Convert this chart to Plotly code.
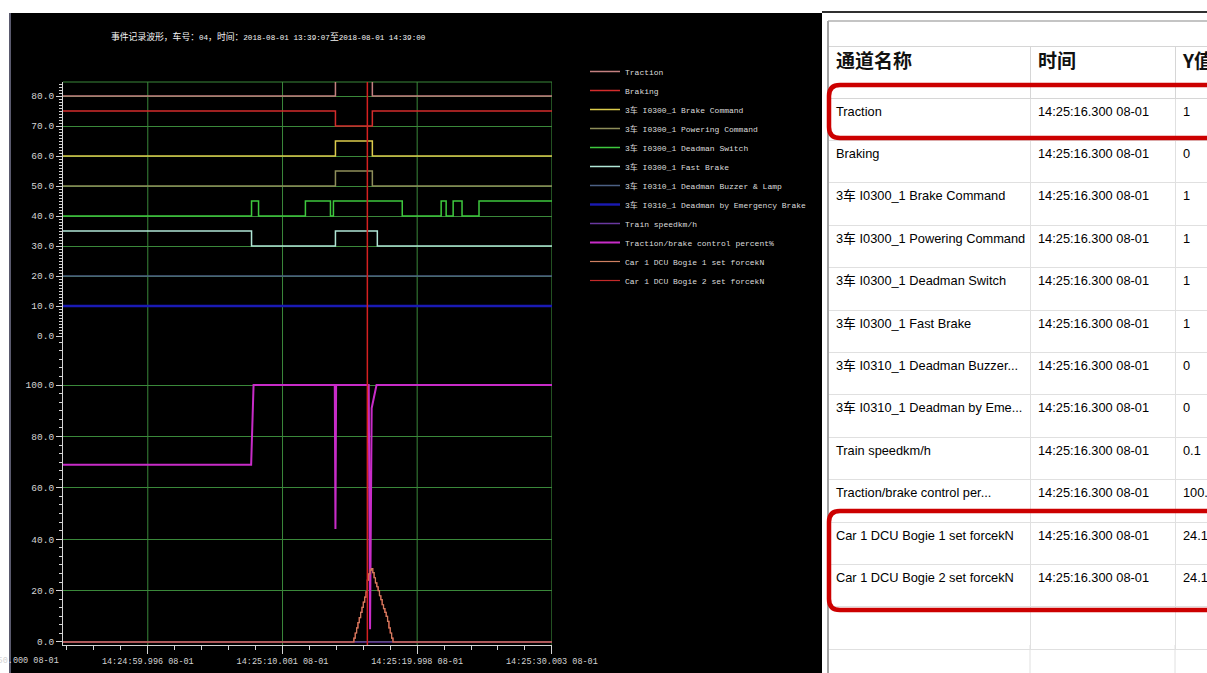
import plotly.graph_objects as go

W, H = 1207, 673

# ---------------- data ----------------
title_cjk_1 = "事件记录波形，车号："
title_num_1 = "04"
title_cjk_2 = "，时间："
title_num_2 = "2018-08-01 13:39:07"
title_cjk_3 = "至"
title_num_3 = "2018-08-01 14:39:00"

# time axis: seconds relative to 14:25:00.000 (08-01)
x_tick_vals = [-0.004, 10.001, 19.998, 30.003]
x_tick_text = ["14:24:59.996 08-01", "14:25:10.001 08-01",
               "14:25:19.998 08-01", "14:25:30.003 08-01"]
x_offscale_val = -10.0
x_offscale_text = "14:24:50.000 08-01"
t_start, t_end = -6.3, 30.01
cursor_time = 16.3

channel_names = [
    "Traction", "Braking",
    "3车 I0300_1 Brake Command", "3车 I0300_1 Powering Command",
    "3车 I0300_1 Deadman Switch", "3车 I0300_1 Fast Brake",
    "3车 I0310_1 Deadman Buzzer & Lamp", "3车 I0310_1 Deadman by Emergency Brake",
    "Train speedkm/h", "Traction/brake control percent%",
    "Car 1 DCU Bogie 1 set forcekN", "Car 1 DCU Bogie 2 set forcekN",
]

# digital channels (0/1 states, step changes)
traction_t = [-6.3, 13.93, 16.67, 30.01]
traction_s = [0, 1, 0, 0]
braking_t = [-6.3, 13.93, 16.67, 30.01]
braking_s = [1, 0, 1, 1]
brake_cmd_t = [-6.3, 13.93, 16.67, 30.01]
brake_cmd_s = [0, 1, 0, 0]
powering_t = [-6.3, 13.93, 16.67, 30.01]
powering_s = [0, 1, 0, 0]
deadman_t = [-6.3, 7.70, 8.22, 11.70, 13.56, 13.78, 18.89, 21.78, 22.15, 22.67, 23.33, 24.59, 30.01]
deadman_s = [0, 1, 0, 1, 0, 1, 0, 1, 0, 1, 0, 1, 1]
fast_brake_t = [-6.3, 7.70, 13.93, 17.04, 30.01]
fast_brake_s = [1, 0, 1, 0, 0]
buzzer_t = [-6.3, 30.01]
buzzer_s = [0, 0]
eb_t = [-6.3, 30.01]
eb_s = [0, 0]

# analog channels
speed_t = [-6.3, 15.9, 16.0, 16.9, 17.0, 30.01]
speed_v = [0, 0, 0.1, 0.1, 0, 0]
percent_t = [-6.3, 7.67, 7.85, 13.88, 13.93, 13.98, 16.40, 16.50, 16.62, 16.98, 30.01]
percent_v = [69, 69, 100, 100, 44, 100, 100, 5, 91, 100, 100]
bogie_t = [-6.3, 15.2, 15.3, 15.4, 15.5, 15.6, 15.7, 15.8, 15.9, 16.0, 16.1, 16.2,
           16.3, 16.4, 16.5, 16.6, 16.7, 16.8, 16.9, 17.0, 17.1, 17.2, 17.3, 17.4,
           17.5, 17.6, 17.7, 17.8, 17.9, 18.0, 18.1, 18.2, 30.01]
bogie1_v = [0, 0, 1.5, 3.5, 5.5, 7.5, 9.5, 11.5, 13.5, 15.5, 17.5, 19.5,
            24.1, 26.5, 28.0, 28.6, 27.0, 25.0, 23.0, 21.5, 20.0, 18.0, 16.5, 14.5,
            13.0, 11.5, 10.0, 8.0, 5.5, 3.5, 1.5, 0, 0]
bogie2_v = [0, 0, 1.5, 3.5, 5.5, 7.5, 9.5, 11.5, 13.5, 15.5, 17.5, 19.5,
            24.1, 26.5, 28.0, 28.6, 27.0, 25.0, 23.0, 21.5, 20.0, 18.0, 16.5, 14.5,
            13.0, 11.5, 10.0, 8.0, 5.5, 3.5, 1.5, 0, 0]

top_y_ticks = [0, 10, 20, 30, 40, 50, 60, 70, 80]
bottom_y_ticks = [0, 20, 40, 60, 80, 100]

# table (cursor readout)
table_header = ["通道名称", "时间", "Y值"]
table_names = ["Traction", "Braking", "3车 I0300_1 Brake Command",
               "3车 I0300_1 Powering Command", "3车 I0300_1 Deadman Switch",
               "3车 I0300_1 Fast Brake", "3车 I0310_1 Deadman Buzzer...",
               "3车 I0310_1 Deadman by Eme...", "Train speedkm/h",
               "Traction/brake control per...", "Car 1 DCU Bogie 1 set forcekN",
               "Car 1 DCU Bogie 2 set forcekN", ""]
table_times = ["14:25:16.300 08-01"] * 12 + [""]
table_values = ["1", "0", "1", "1", "1", "1", "0", "0", "0.1", "100.0", "24.1", "24.1", ""]

# ---------------- style ----------------
GRID = "#3a883a"
AXC = "#d4d4d4"
MONO = "Liberation Mono, DejaVu Sans Mono, Noto Sans CJK SC"
digital_offsets = [80, 70, 60, 50, 40, 30, 20, 10]
digital_scale = 5
colors = ["#c48080", "#d42c2c", "#dccc4c", "#8e8e5a", "#3ec83e", "#b0e6d6",
          "#4c6084", "#1a1ab4", "#6a38a0", "#c82cc8", "#d08062", "#c42a2a"]


def px_x(p):
    return p / W


def px_y(p):
    return 1 - p / H


xdom = [px_x(63), px_x(552)]
top_dom = [px_y(337), px_y(82)]
bot_dom = [px_y(645), px_y(337)]


def time_to_paper(t):
    return xdom[0] + (t - t_start) / (t_end - t_start) * (xdom[1] - xdom[0])


fig = go.Figure()

digital = [(traction_t, traction_s), (braking_t, braking_s), (brake_cmd_t, brake_cmd_s),
           (powering_t, powering_s), (deadman_t, deadman_s), (fast_brake_t, fast_brake_s),
           (buzzer_t, buzzer_s), (eb_t, eb_s)]
for i, (tt, ss) in enumerate(digital):
    fig.add_trace(go.Scatter(
        x=tt, y=[digital_offsets[i] + digital_scale * s for s in ss],
        mode="lines", line=dict(color=colors[i], width=2.4 if i == 7 else 1.5, shape="hv"),
        name=channel_names[i], xaxis="x", yaxis="y", legendrank=i + 1))

fig.add_trace(go.Scatter(x=speed_t, y=speed_v, mode="lines",
                         line=dict(color=colors[8], width=1.5),
                         name=channel_names[8], xaxis="x2", yaxis="y2", legendrank=9))
fig.add_trace(go.Scatter(x=percent_t, y=percent_v, mode="lines",
                         line=dict(color=colors[9], width=2),
                         name=channel_names[9], xaxis="x2", yaxis="y2", legendrank=10))
fig.add_trace(go.Scatter(x=bogie_t, y=bogie2_v, mode="lines",
                         line=dict(color=colors[11], width=1.2, shape="hv"),
                         name=channel_names[11], xaxis="x2", yaxis="y2", legendrank=12))
fig.add_trace(go.Scatter(x=bogie_t, y=bogie1_v, mode="lines",
                         line=dict(color=colors[10], width=1.2, shape="hv"),
                         name=channel_names[10], xaxis="x2", yaxis="y2", legendrank=11))

# table
nb = lambda s: s.replace(" ", "\u00a0")
fig.add_trace(go.Table(
    domain=dict(x=[px_x(828), 1.0], y=[0, px_y(46)]),
    columnwidth=[202, 145, 32],
    header=dict(values=table_header, align="left", height=52,
                fill_color="white", line_color="#d6d6d6",
                font=dict(family="Noto Sans CJK SC", size=19, color="#111111", weight="bold")),
    cells=dict(values=[[nb(s) for s in table_names], [nb(s) for s in table_times], table_values],
               align="left", height=42.4, fill_color="white", line_color="#e0e0e0",
               font=dict(family="Liberation Sans, Arial, Noto Sans CJK SC",
                         size=12.8, color="#000000")),
))

xcommon = dict(range=[t_start, t_end], tickmode="array", tickvals=x_tick_vals,
               showgrid=False, zeroline=False, automargin=False)

shapes = [
    # dark window background
    dict(type="rect", xref="paper", yref="paper", x0=px_x(10), x1=px_x(822), y0=0, y1=px_y(13),
         fillcolor="black", line=dict(width=0), layer="below"),
    dict(type="line", xref="paper", yref="paper", x0=px_x(10), x1=px_x(10), y0=0, y1=px_y(13),
         line=dict(color="#5a5a6e", width=2)),
    # top border of upper plot
    dict(type="line", xref="paper", yref="paper", x0=xdom[0], x1=xdom[1], y0=top_dom[1], y1=top_dom[1],
         line=dict(color=GRID, width=1), layer="below"),
]
# vertical time grid lines spanning both panels
for tv in x_tick_vals:
    shapes.append(dict(type="line", xref="x2", yref="paper", x0=tv, x1=tv,
                       y0=bot_dom[0], y1=top_dom[1], line=dict(color=GRID, width=1),
                       layer="below"))
shapes += [
    # cursor
    dict(type="line", xref="x2", yref="paper", x0=cursor_time, x1=cursor_time,
         y0=bot_dom[0], y1=top_dom[1], line=dict(color="#d42020", width=1.5)),
    # table frame
    dict(type="line", xref="paper", yref="paper", x0=px_x(822), x1=1, y0=px_y(12), y1=px_y(12),
         line=dict(color="#303030", width=2)),
    dict(type="line", xref="paper", yref="paper", x0=px_x(828), x1=1, y0=px_y(21), y1=px_y(21),
         line=dict(color="#c4c4c4", width=2)),
    dict(type="line", xref="paper", yref="paper", x0=px_x(828), x1=px_x(828), y0=0, y1=px_y(21),
         line=dict(color="#a4a4a4", width=2)),
    dict(type="line", xref="paper", yref="paper", x0=px_x(1030), x1=px_x(1030), y0=0, y1=px_y(645),
         line=dict(color="#e0e0e0", width=1)),
    dict(type="line", xref="paper", yref="paper", x0=px_x(1175), x1=px_x(1175), y0=0, y1=px_y(645),
         line=dict(color="#e0e0e0", width=1)),
]


def rrect(x0, y0, x1, y1, r):
    pts = [("M", [(x0 + r, y0)]), ("L", [(x1 - r, y0)]), ("Q", [(x1, y0), (x1, y0 + r)]),
           ("L", [(x1, y1 - r)]), ("Q", [(x1, y1), (x1 - r, y1)]), ("L", [(x0 + r, y1)]),
           ("Q", [(x0, y1), (x0, y1 - r)]), ("L", [(x0, y0 + r)]), ("Q", [(x0, y0), (x0 + r, y0)])]
    out = []
    for cmd, ps in pts:
        out.append(cmd + " " + " ".join(f"{px_x(a):.5f},{px_y(b):.5f}" for a, b in ps))
    return " ".join(out) + " Z"


for (a, b, c, d) in [(829, 85, 1222, 138), (829, 511, 1222, 610)]:
    shapes.append(dict(type="path", xref="paper", yref="paper", path=rrect(a, b, c, d, 11),
                       line=dict(color="#cc0000", width=4.5)))


def cjk(s):
    return f'<span style="font-size:8.8px">{s}</span>'


title_html = (cjk(title_cjk_1) + title_num_1 + cjk(title_cjk_2) + title_num_2
              + cjk(title_cjk_3) + title_num_3)

annotations = [
    dict(text=title_html, xref="paper", yref="paper", x=px_x(268), y=px_y(37),
         showarrow=False, xanchor="center", yanchor="middle",
         font=dict(family=MONO, size=7.6, color="#f4f4f4")),
    dict(text=x_offscale_text, xref="paper", yref="paper", x=time_to_paper(x_offscale_val),
         y=px_y(661), showarrow=False, xanchor="center", yanchor="middle",
         font=dict(family=MONO, size=8.5, color=AXC)),
]

fig.update_layout(
    template="none",
    width=W, height=H, autosize=False,
    margin=dict(l=0, r=0, t=0, b=0, pad=0),
    paper_bgcolor="white", plot_bgcolor="black",
    showlegend=True,
    legend=dict(x=px_x(585), y=px_y(57), xanchor="left", yanchor="top",
                bgcolor="rgba(0,0,0,0)", borderwidth=0, itemwidth=30, tracegroupgap=0,
                font=dict(family=MONO, size=8, color="#dcdcdc")),
    xaxis=dict(domain=xdom, anchor="y", showticklabels=False, ticks="", showline=False, **xcommon),
    xaxis2=dict(domain=xdom, anchor="y2", matches="x", ticktext=x_tick_text, showticklabels=True,
                ticks="outside", ticklen=8, tickcolor=AXC, showline=True, linecolor=AXC,
                tickfont=dict(family=MONO, size=8.5, color=AXC),
                minor=dict(tickmode="linear", tick0=-0.004, dtick=2, ticks="outside",
                           ticklen=4, tickcolor=AXC, showgrid=False),
                **xcommon),
    yaxis=dict(domain=top_dom, anchor="x", range=[-0.33, 84.7], automargin=False,
               tickmode="array", tickvals=top_y_ticks, tickformat=".1f",
               showgrid=True, gridcolor=GRID, zeroline=False,
               ticks="outside", ticklen=6, tickcolor=AXC, showline=True, linecolor=AXC,
               tickfont=dict(family=MONO, size=9.5, color=AXC),
               minor=dict(tickmode="linear", tick0=0, dtick=1, ticks="outside", ticklen=3,
                          tickcolor=AXC, showgrid=False)),
    yaxis2=dict(domain=bot_dom, anchor="x2", range=[-1.17, 118.7], automargin=False,
                tickmode="array", tickvals=bottom_y_ticks, tickformat=".1f",
                showgrid=True, gridcolor=GRID, zeroline=False,
                ticks="outside", ticklen=6, tickcolor=AXC, showline=True, linecolor=AXC,
                tickfont=dict(family=MONO, size=9.5, color=AXC),
                minor=dict(tickmode="linear", tick0=0, dtick=10 / 3, ticks="outside", ticklen=3,
                           tickcolor=AXC, showgrid=False)),
    shapes=shapes,
    annotations=annotations,
)

fig.write_html("out.html", config={"displayModeBar": False},
               post_script="document.body.style.margin='0';document.body.style.overflow='hidden';")
